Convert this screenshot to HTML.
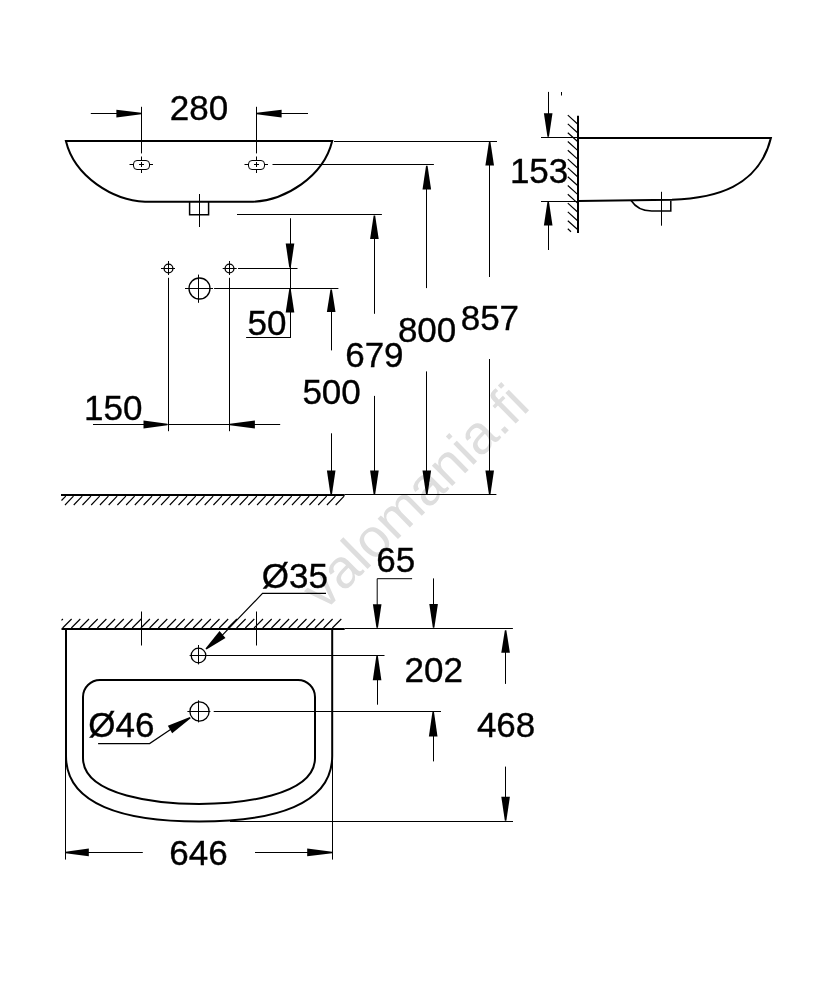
<!DOCTYPE html>
<html><head><meta charset="utf-8"><style>
html,body{margin:0;padding:0;background:#fff;}
svg{display:block;will-change:transform;}
text{font-family:"Liberation Sans",sans-serif;fill:#000;stroke:#000;stroke-width:0.35px;}
</style></head><body>
<svg width="834" height="1000" viewBox="0 0 834 1000">
<rect width="834" height="1000" fill="#fff"/>
<text x="0" y="0" font-size="54.6" style="fill:#dedede;stroke:none" transform="translate(323.9,612) rotate(-44.5)">valomania.fi</text>
<path d="M65.9,141 L332.2,141 C323.5,177 284.8,200.3 253.1,201.8 L145,201.8 C113.3,200.3 74.6,177 65.9,141 Z" stroke="#000" stroke-width="2" fill="none"/>
<rect x="133.5" y="160.5" width="16" height="9" rx="3.5" stroke="#000" stroke-width="1" fill="none"/>
<line x1="129.5" y1="164.5" x2="133.5" y2="164.5" stroke="#000" stroke-width="1"/>
<line x1="149.5" y1="164.5" x2="153.0" y2="164.5" stroke="#000" stroke-width="1"/>
<line x1="141.5" y1="156.5" x2="141.5" y2="160.5" stroke="#000" stroke-width="1"/>
<line x1="141.5" y1="169.5" x2="141.5" y2="173.0" stroke="#000" stroke-width="1"/>
<line x1="139.0" y1="164.5" x2="144.0" y2="164.5" stroke="#000" stroke-width="1"/>
<line x1="141.5" y1="162.0" x2="141.5" y2="167.0" stroke="#000" stroke-width="1"/>
<line x1="141.5" y1="106.8" x2="141.5" y2="153.4" stroke="#000" stroke-width="1"/>
<rect x="248.5" y="160.5" width="16" height="9" rx="3.5" stroke="#000" stroke-width="1" fill="none"/>
<line x1="244.5" y1="164.5" x2="248.5" y2="164.5" stroke="#000" stroke-width="1"/>
<line x1="264.5" y1="164.5" x2="268.0" y2="164.5" stroke="#000" stroke-width="1"/>
<line x1="256.5" y1="156.5" x2="256.5" y2="160.5" stroke="#000" stroke-width="1"/>
<line x1="256.5" y1="169.5" x2="256.5" y2="173.0" stroke="#000" stroke-width="1"/>
<line x1="254.0" y1="164.5" x2="259.0" y2="164.5" stroke="#000" stroke-width="1"/>
<line x1="256.5" y1="162.0" x2="256.5" y2="167.0" stroke="#000" stroke-width="1"/>
<line x1="256.5" y1="106.8" x2="256.5" y2="153.4" stroke="#000" stroke-width="1"/>
<path d="M189.6,202 L189.6,214.8 L208.6,214.8 L208.6,202" stroke="#000" stroke-width="1.5" fill="none"/>
<line x1="199.5" y1="194" x2="199.5" y2="227" stroke="#000" stroke-width="1"/>
<line x1="90.8" y1="113.5" x2="120" y2="113.5" stroke="#000" stroke-width="1"/>
<path d="M141.30,114.35 L116.40,117.50 L116.40,109.70 L141.30,112.85 Z" fill="#000"/>
<line x1="280" y1="113.5" x2="308" y2="113.5" stroke="#000" stroke-width="1"/>
<path d="M256.60,112.85 L281.60,109.70 L281.60,117.50 L256.60,114.35 Z" fill="#000"/>
<text x="169.75" y="120.2" font-size="35">280</text>
<line x1="334" y1="141.5" x2="497" y2="141.5" stroke="#000" stroke-width="1"/>
<line x1="272.5" y1="164.5" x2="433.9" y2="164.5" stroke="#000" stroke-width="1"/>
<line x1="237" y1="214.5" x2="381.9" y2="214.5" stroke="#000" stroke-width="1"/>
<line x1="238" y1="268.5" x2="297.5" y2="268.5" stroke="#000" stroke-width="1"/>
<line x1="214.1" y1="288.5" x2="338.4" y2="288.5" stroke="#000" stroke-width="1"/>
<line x1="489.5" y1="163.6" x2="489.5" y2="277" stroke="#000" stroke-width="1"/>
<path d="M490.45,142.00 L494.00,165.60 L485.40,165.60 L488.95,142.00 Z" fill="#000"/>
<line x1="489.5" y1="359" x2="489.5" y2="472.4" stroke="#000" stroke-width="1"/>
<path d="M488.95,494.50 L485.40,470.40 L494.00,470.40 L490.45,494.50 Z" fill="#000"/>
<line x1="426.5" y1="187.5" x2="426.5" y2="288.1" stroke="#000" stroke-width="1"/>
<path d="M427.55,165.80 L431.10,189.50 L422.50,189.50 L426.05,165.80 Z" fill="#000"/>
<line x1="426.5" y1="371.40000000000003" x2="426.5" y2="472.4" stroke="#000" stroke-width="1"/>
<path d="M426.05,494.50 L422.50,470.40 L431.10,470.40 L427.55,494.50 Z" fill="#000"/>
<line x1="374.5" y1="237" x2="374.5" y2="313.8" stroke="#000" stroke-width="1"/>
<path d="M375.15,215.60 L378.70,239.00 L370.10,239.00 L373.65,215.60 Z" fill="#000"/>
<line x1="374.5" y1="395.9" x2="374.5" y2="472.4" stroke="#000" stroke-width="1"/>
<path d="M373.65,494.50 L370.10,470.40 L378.70,470.40 L375.15,494.50 Z" fill="#000"/>
<line x1="331.5" y1="310" x2="331.5" y2="350.4" stroke="#000" stroke-width="1"/>
<path d="M331.95,289.50 L335.50,312.00 L326.90,312.00 L330.45,289.50 Z" fill="#000"/>
<line x1="331.5" y1="433.3" x2="331.5" y2="472.4" stroke="#000" stroke-width="1"/>
<path d="M330.45,494.50 L326.90,470.40 L335.50,470.40 L331.95,494.50 Z" fill="#000"/>
<line x1="290.5" y1="218.5" x2="290.5" y2="245.5" stroke="#000" stroke-width="1"/>
<path d="M289.25,267.50 L285.70,243.50 L294.30,243.50 L290.75,267.50 Z" fill="#000"/>
<line x1="290.5" y1="310.6" x2="290.5" y2="337.8" stroke="#000" stroke-width="1"/>
<path d="M290.75,289.00 L294.30,312.60 L285.70,312.60 L289.25,289.00 Z" fill="#000"/>
<line x1="246.1" y1="337.5" x2="290.5" y2="337.5" stroke="#000" stroke-width="1"/>
<line x1="290.5" y1="218.5" x2="290.5" y2="337.8" stroke="#000" stroke-width="1"/>
<text x="247.6" y="335.4" font-size="35">50</text>
<text x="345.2" y="366.9" font-size="35">679</text>
<text x="397.9" y="342.4" font-size="35">800</text>
<text x="460.7" y="330.3" font-size="35">857</text>
<text x="302.4" y="404.3" font-size="35">500</text>
<circle cx="168.5" cy="268.5" r="4.4" stroke="#000" stroke-width="1.3" fill="none"/>
<line x1="161" y1="268.5" x2="175" y2="268.5" stroke="#000" stroke-width="1"/>
<line x1="168.5" y1="261" x2="168.5" y2="275" stroke="#000" stroke-width="1"/>
<line x1="168.5" y1="277.8" x2="168.5" y2="431.2" stroke="#000" stroke-width="1"/>
<circle cx="229.5" cy="268.5" r="4.4" stroke="#000" stroke-width="1.3" fill="none"/>
<line x1="222.7" y1="268.5" x2="236.7" y2="268.5" stroke="#000" stroke-width="1"/>
<line x1="229.5" y1="261" x2="229.5" y2="275" stroke="#000" stroke-width="1"/>
<line x1="229.5" y1="277.8" x2="229.5" y2="431.2" stroke="#000" stroke-width="1"/>
<circle cx="199.5" cy="288.5" r="10.5" stroke="#000" stroke-width="1.3" fill="none"/>
<line x1="185" y1="288.5" x2="213" y2="288.5" stroke="#000" stroke-width="1"/>
<line x1="198.5" y1="274.6" x2="198.5" y2="302.8" stroke="#000" stroke-width="1"/>
<line x1="93" y1="424.5" x2="145" y2="424.5" stroke="#000" stroke-width="1"/>
<path d="M167.40,425.25 L143.50,428.40 L143.50,420.60 L167.40,423.75 Z" fill="#000"/>
<line x1="167.4" y1="424.5" x2="229.9" y2="424.5" stroke="#000" stroke-width="1"/>
<line x1="253" y1="424.5" x2="280.2" y2="424.5" stroke="#000" stroke-width="1"/>
<path d="M229.90,423.75 L254.90,420.60 L254.90,428.40 L229.90,425.25 Z" fill="#000"/>
<text x="84.1" y="420.3" font-size="35">150</text>
<line x1="61" y1="495" x2="344.7" y2="495" stroke="#000" stroke-width="2"/>
<line x1="344.7" y1="494.5" x2="496.4" y2="494.5" stroke="#000" stroke-width="1"/>
<path d="M65.00,505 L73.50,496.2 M73.73,505 L82.23,496.2 M82.46,505 L90.96,496.2 M91.19,505 L99.69,496.2 M99.92,505 L108.42,496.2 M108.65,505 L117.15,496.2 M117.38,505 L125.88,496.2 M126.11,505 L134.61,496.2 M134.84,505 L143.34,496.2 M143.57,505 L152.07,496.2 M152.30,505 L160.80,496.2 M161.03,505 L169.53,496.2 M169.76,505 L178.26,496.2 M178.49,505 L186.99,496.2 M187.22,505 L195.72,496.2 M195.95,505 L204.45,496.2 M204.68,505 L213.18,496.2 M213.41,505 L221.91,496.2 M222.14,505 L230.64,496.2 M230.87,505 L239.37,496.2 M239.60,505 L248.10,496.2 M248.33,505 L256.83,496.2 M257.06,505 L265.56,496.2 M265.79,505 L274.29,496.2 M274.52,505 L283.02,496.2 M283.25,505 L291.75,496.2 M291.98,505 L300.48,496.2 M300.71,505 L309.21,496.2 M309.44,505 L317.94,496.2 M318.17,505 L326.67,496.2 M326.90,505 L335.40,496.2 M335.63,505 L344.13,496.2" stroke="#000" stroke-width="1.15" fill="none"/>
<path d="M61.5,500.5 L65.8,496.2" stroke="#000" stroke-width="1.15" fill="none"/>
<line x1="578" y1="115.7" x2="578" y2="233.1" stroke="#000" stroke-width="2"/>
<path d="M567.8,115.10 L577.3,123.70 M567.8,123.90 L577.3,132.50 M567.8,132.70 L577.3,141.30 M567.8,141.50 L577.3,150.10 M567.8,150.30 L577.3,158.90 M567.8,159.10 L577.3,167.70 M567.8,167.90 L577.3,176.50 M567.8,176.70 L577.3,185.30 M567.8,185.50 L577.3,194.10 M567.8,194.30 L577.3,202.90 M567.8,203.10 L577.3,211.70 M567.8,211.90 L577.3,220.50 M567.8,220.70 L577.3,229.30 M567.8,228.8 L571,231.7" stroke="#000" stroke-width="1.15" fill="none"/>
<line x1="541" y1="137.5" x2="578" y2="137.5" stroke="#000" stroke-width="1"/>
<line x1="541" y1="201.5" x2="578" y2="201.5" stroke="#000" stroke-width="1"/>
<path d="M578,138 L770.9,138 C758.6,187.5 714.8,198.2 672,199.8 L578,201" stroke="#000" stroke-width="2" fill="none"/>
<path d="M631.1,200.5 C636,208 644,211 651.7,211 L670.8,211 L670.8,200.8" stroke="#000" stroke-width="1.5" fill="none"/>
<line x1="661.5" y1="191.8" x2="661.5" y2="225.7" stroke="#000" stroke-width="1"/>
<line x1="548.5" y1="91.9" x2="548.5" y2="115.2" stroke="#000" stroke-width="1"/>
<path d="M547.45,136.80 L543.90,113.20 L552.50,113.20 L548.95,136.80 Z" fill="#000"/>
<line x1="548.5" y1="223.4" x2="548.5" y2="250" stroke="#000" stroke-width="1"/>
<path d="M548.95,201.80 L552.50,225.40 L543.90,225.40 L547.45,201.80 Z" fill="#000"/>
<line x1="561.5" y1="92" x2="561.5" y2="95.5" stroke="#000" stroke-width="1"/>
<text x="509.9" y="182.6" font-size="35">153</text>
<line x1="61.5" y1="629" x2="344.7" y2="629" stroke="#000" stroke-width="2"/>
<line x1="344.7" y1="628.5" x2="512.9" y2="628.5" stroke="#000" stroke-width="1"/>
<path d="M61.50,620.40 L62.90,619 M62.60,628.00 L71.60,619 M71.30,628.00 L80.30,619 M80.00,628.00 L89.00,619 M88.70,628.00 L97.70,619 M97.40,628.00 L106.40,619 M106.10,628.00 L115.10,619 M114.80,628.00 L123.80,619 M123.50,628.00 L132.50,619 M132.20,628.00 L141.20,619 M140.90,628.00 L149.90,619 M149.60,628.00 L158.60,619 M158.30,628.00 L167.30,619 M167.00,628.00 L176.00,619 M175.70,628.00 L184.70,619 M184.40,628.00 L193.40,619 M193.10,628.00 L202.10,619 M201.80,628.00 L210.80,619 M210.50,628.00 L219.50,619 M219.20,628.00 L228.20,619 M227.90,628.00 L236.90,619 M236.60,628.00 L245.60,619 M245.30,628.00 L254.30,619 M254.00,628.00 L263.00,619 M262.70,628.00 L271.70,619 M271.40,628.00 L280.40,619 M280.10,628.00 L289.10,619 M288.80,628.00 L297.80,619 M297.50,628.00 L306.50,619 M306.20,628.00 L315.20,619 M314.90,628.00 L323.90,619 M323.60,628.00 L332.60,619 M332.30,628.00 L341.30,619" stroke="#000" stroke-width="1.15" fill="none"/>
<line x1="141.5" y1="611.5" x2="141.5" y2="645.5" stroke="#000" stroke-width="1"/>
<line x1="256.5" y1="611.5" x2="256.5" y2="645.5" stroke="#000" stroke-width="1"/>
<path d="M66,629 L66,756 C66,804.9 124.2,821.5 199.1,821.5 C274,821.5 332.2,804.9 332.2,756 L332.2,629" stroke="#000" stroke-width="2" fill="none"/>
<path d="M83,697 A17 17 0 0 1 100,680 L298,680 A17 17 0 0 1 315,697 L315,758 C315,796.7 237.4,804 199.1,804 C160.8,804 83,796.7 83,758 Z" stroke="#000" stroke-width="2" fill="none"/>
<circle cx="198.5" cy="655.5" r="7.3" stroke="#000" stroke-width="1.3" fill="none"/>
<line x1="189.6" y1="655.5" x2="384.5" y2="655.5" stroke="#000" stroke-width="1"/>
<line x1="198.5" y1="645" x2="198.5" y2="664.4" stroke="#000" stroke-width="1"/>
<path d="M205.50,648.44 L219.53,631.12 L225.47,637.88 L206.50,649.56 Z" fill="#000"/>
<path d="M220,637.7 L262.5,593.4 L326,593.4" stroke="#000" stroke-width="1.2" fill="none"/>
<text x="261.8" y="588.4" font-size="35">Ø35</text>
<circle cx="199.5" cy="711.5" r="9.6" stroke="#000" stroke-width="1.3" fill="none"/>
<line x1="187.4" y1="711.5" x2="210.4" y2="711.5" stroke="#000" stroke-width="1"/>
<line x1="213.7" y1="711.5" x2="441" y2="711.5" stroke="#000" stroke-width="1"/>
<line x1="198.5" y1="700.3" x2="198.5" y2="722.4" stroke="#000" stroke-width="1"/>
<path d="M190.68,718.25 L172.17,733.21 L167.83,725.79 L189.92,716.95 Z" fill="#000"/>
<path d="M175,726.5 L149.6,743.6 L98.1,743.6" stroke="#000" stroke-width="1.2" fill="none"/>
<text x="88.3" y="737.3" font-size="35">Ø46</text>
<path d="M412.1,578.7 L377.2,578.7 L377.2,606" stroke="#000" stroke-width="1" fill="none"/>
<path d="M376.45,627.80 L372.90,604.30 L381.50,604.30 L377.95,627.80 Z" fill="#000"/>
<line x1="433.5" y1="578.4" x2="433.5" y2="606" stroke="#000" stroke-width="1"/>
<path d="M432.85,627.80 L429.30,604.00 L437.90,604.00 L434.35,627.80 Z" fill="#000"/>
<text x="376.25" y="571.7" font-size="35">65</text>
<line x1="377.5" y1="678.3" x2="377.5" y2="704.7" stroke="#000" stroke-width="1"/>
<path d="M377.85,655.80 L381.40,680.30 L372.80,680.30 L376.35,655.80 Z" fill="#000"/>
<line x1="433.5" y1="734.4" x2="433.5" y2="761.4" stroke="#000" stroke-width="1"/>
<path d="M433.95,711.80 L437.50,736.40 L428.90,736.40 L432.45,711.80 Z" fill="#000"/>
<text x="404.5" y="682.4" font-size="35">202</text>
<line x1="505.5" y1="650.8" x2="505.5" y2="683.9" stroke="#000" stroke-width="1"/>
<path d="M506.35,630.30 L509.90,652.80 L501.30,652.80 L504.85,630.30 Z" fill="#000"/>
<line x1="505.5" y1="766.6" x2="505.5" y2="798.8" stroke="#000" stroke-width="1"/>
<path d="M504.85,820.80 L501.30,796.80 L509.90,796.80 L506.35,820.80 Z" fill="#000"/>
<line x1="230" y1="821.5" x2="513" y2="821.5" stroke="#000" stroke-width="1"/>
<text x="476.9" y="737.3" font-size="35">468</text>
<line x1="65.5" y1="750" x2="65.5" y2="859.6" stroke="#000" stroke-width="1"/>
<line x1="332.5" y1="750" x2="332.5" y2="859.6" stroke="#000" stroke-width="1"/>
<line x1="86" y1="852.5" x2="142.8" y2="852.5" stroke="#000" stroke-width="1"/>
<path d="M65.60,851.65 L88.80,848.50 L88.80,856.30 L65.60,853.15 Z" fill="#000"/>
<line x1="255" y1="852.5" x2="310" y2="852.5" stroke="#000" stroke-width="1"/>
<path d="M332.20,853.15 L307.20,856.30 L307.20,848.50 L332.20,851.65 Z" fill="#000"/>
<text x="169.25" y="864.9" font-size="35">646</text>
</svg></body></html>
